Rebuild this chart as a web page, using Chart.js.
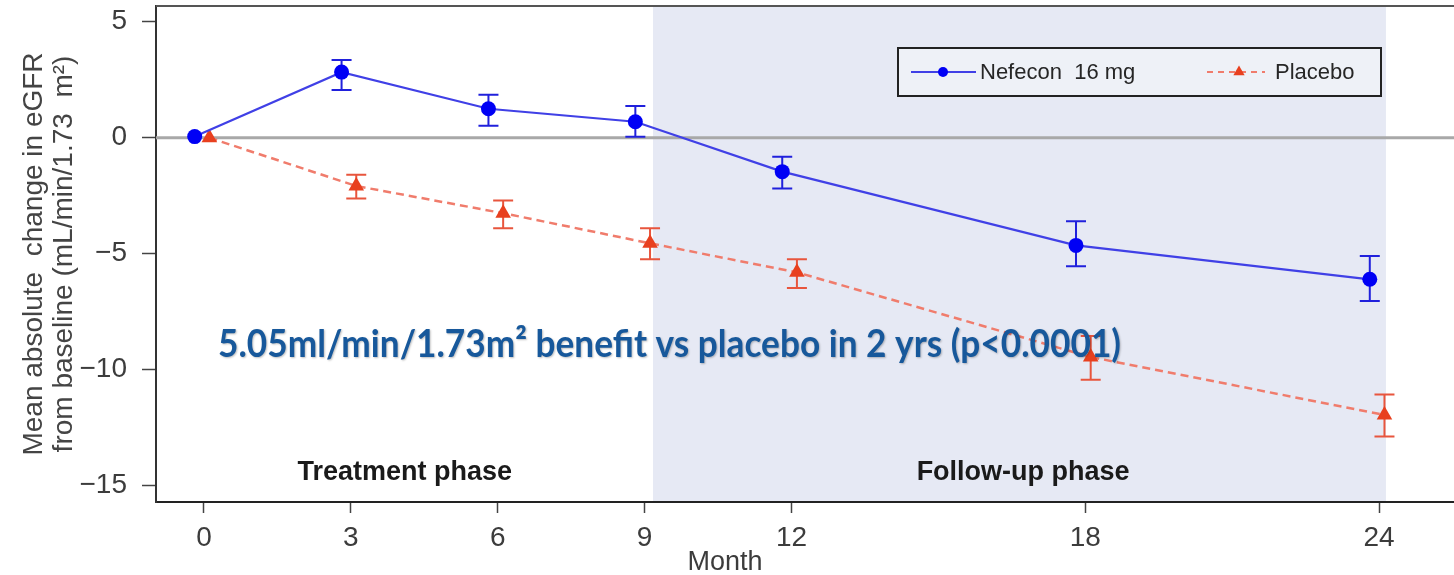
<!DOCTYPE html>
<html>
<head>
<meta charset="utf-8">
<script src="https://cdn.jsdelivr.net/npm/chart.js@4.4.1/dist/chart.umd.min.js"></script>
<style>
  html, body { margin: 0; padding: 0; background: #ffffff; overflow: hidden; }
  canvas { display: block; }
</style>
</head>
<body>
<canvas id="egfr" width="1454" height="575"></canvas>
<script>
// Visit months and axis ticks
const months = [0, 3, 6, 9, 12, 18, 24];
const xTickValues = [0, 3, 6, 9, 12, 18, 24];
const yTickValues = [-15, -10, -5, 0, 5];

// Nefecon 16 mg: mean change and 95% CI bounds
const nefeconLabel = 'Nefecon  16 mg';
const nefeconMean = [0.05, 2.83, 1.25, 0.69, -1.46, -4.64, -6.10];
const nefeconLow  = [0.05, 2.06, 0.52, 0.04, -2.19, -5.54, -7.04];
const nefeconHigh = [0.05, 3.35, 1.85, 1.37, -0.82, -3.60, -5.10];

// Placebo: mean change and 95% CI bounds
const placeboLabel = 'Placebo';
const placeboMean = [0, -2.08, -3.25, -4.55, -5.80, -9.45, -11.95];
const placeboLow  = [0, -2.62, -3.90, -5.24, -6.48, -10.43, -12.88];
const placeboHigh = [0, -1.59, -2.70, -3.90, -5.24, -8.54, -11.07];

// Follow-up phase window (months)
const followUpStart = 9.17;
const followUpEnd = 24.14;

const yTitle = ['Mean absolute  change in eGFR', 'from baseline (mL/min/1.73  m\u00B2)'];
const xTitle = 'Month';
const benefitNote = '5.05ml/min/1.73m\u00B2 benefit vs placebo in 2 yrs (p<0.0001)';
const phaseNames = ['Treatment phase', 'Follow-up phase'];

const AXIS_FONT = "'Liberation Sans', Arial, sans-serif";

// horizontal dodge so the two series do not overlap at each visit
const dodgeNefecon = -0.19;
const dodgePlacebo = 0.11;
const toPoints = (vals, shift) => months.map((m, i) => ({ x: m + shift, y: vals[i] }));

const decorations = {
  id: 'decorations',
  beforeDraw(chart) {
    const { ctx, chartArea: a, scales: { x } } = chart;
    const x0 = x.getPixelForValue(followUpStart);
    const x1 = x.getPixelForValue(followUpEnd);
    ctx.save();
    ctx.fillStyle = '#e6e9f4';
    ctx.fillRect(x0, a.top, x1 - x0, a.bottom - a.top);
    ctx.restore();
  },
  beforeDatasetsDraw(chart) {
    const { ctx, chartArea: a, scales: { y } } = chart;
    ctx.save();
    // top frame
    ctx.strokeStyle = '#555555';
    ctx.lineWidth = 2;
    ctx.beginPath();
    ctx.moveTo(a.left, a.top);
    ctx.lineTo(a.right, a.top);
    ctx.stroke();
    // zero reference line
    const y0 = y.getPixelForValue(0);
    ctx.strokeStyle = '#a8a8a8';
    ctx.lineWidth = 3;
    ctx.beginPath();
    ctx.moveTo(a.left, y0);
    ctx.lineTo(a.right, y0);
    ctx.stroke();
    // error bars
    chart.data.datasets.forEach((ds, i) => {
      const meta = chart.getDatasetMeta(i);
      ctx.strokeStyle = ds.errColor;
      ctx.lineWidth = 2;
      meta.data.forEach((pt, j) => {
        const lo = ds.errLow[j], hi = ds.errHigh[j];
        if (lo === hi) return;
        const yl = y.getPixelForValue(lo), yh = y.getPixelForValue(hi);
        const cap = 10;
        ctx.beginPath();
        ctx.moveTo(pt.x, yl); ctx.lineTo(pt.x, yh);
        ctx.moveTo(pt.x - cap, yl); ctx.lineTo(pt.x + cap, yl);
        ctx.moveTo(pt.x - cap, yh); ctx.lineTo(pt.x + cap, yh);
        ctx.stroke();
      });
    });
    ctx.restore();
  },
  afterDraw(chart) {
    const { ctx, chartArea: a, scales: { x } } = chart;
    ctx.save();

    // x axis title
    ctx.fillStyle = '#3c3c3c';
    ctx.font = `27px ${AXIS_FONT}`;
    ctx.textAlign = 'center';
    ctx.textBaseline = 'alphabetic';
    ctx.fillText(xTitle, 725, 570);

    // phase labels
    ctx.font = `bold 27px ${AXIS_FONT}`;
    ctx.fillStyle = '#1a1a1a';
    ctx.fillText(phaseNames[0], x.getPixelForValue(4.1), a.bottom - 22);
    ctx.fillText(phaseNames[1], x.getPixelForValue(16.73), a.bottom - 22);

    // benefit annotation
    ctx.font = "bold 38px Lato, 'Open Sans', sans-serif";
    ctx.textAlign = 'left';
    const w = ctx.measureText(benefitNote).width;
    const sx = 903 / w;
    ctx.save();
    ctx.translate(218, 357);
    ctx.scale(sx, 1);
    ctx.shadowColor = 'rgba(0,0,0,0.25)';
    ctx.shadowOffsetX = 1;
    ctx.shadowOffsetY = 1;
    ctx.shadowBlur = 2;
    ctx.fillStyle = '#17589b';
    ctx.fillText(benefitNote, 0, 0);
    ctx.restore();

    // legend
    const bx = 898, by = 48, bw = 483, bh = 48;
    ctx.fillStyle = '#eef1f7';
    ctx.fillRect(bx, by, bw, bh);
    ctx.strokeStyle = '#222222';
    ctx.lineWidth = 2;
    ctx.strokeRect(bx, by, bw, bh);
    const ly = by + bh / 2;
    const ds = chart.data.datasets;
    // Nefecon sample
    ctx.strokeStyle = ds[0].borderColor;
    ctx.lineWidth = 2;
    ctx.setLineDash([]);
    ctx.beginPath(); ctx.moveTo(911, ly); ctx.lineTo(976, ly); ctx.stroke();
    ctx.fillStyle = ds[0].pointBackgroundColor;
    ctx.beginPath(); ctx.arc(943, ly, 5, 0, Math.PI * 2); ctx.fill();
    // Placebo sample
    ctx.strokeStyle = ds[1].borderColor;
    ctx.lineWidth = 2;
    ctx.setLineDash([6, 5]);
    ctx.beginPath(); ctx.moveTo(1207, ly); ctx.lineTo(1265, ly); ctx.stroke();
    ctx.setLineDash([]);
    ctx.fillStyle = ds[1].pointBackgroundColor;
    const r = 6.5;
    ctx.beginPath();
    ctx.moveTo(1239, ly - r);
    ctx.lineTo(1239 + r * Math.sin(2 * Math.PI / 3), ly + r / 2);
    ctx.lineTo(1239 - r * Math.sin(2 * Math.PI / 3), ly + r / 2);
    ctx.closePath(); ctx.fill();
    // legend text
    ctx.fillStyle = '#262626';
    ctx.font = `22px ${AXIS_FONT}`;
    ctx.textAlign = 'left';
    ctx.textBaseline = 'middle';
    ctx.fillText(ds[0].label, 980, ly + 1);
    ctx.fillText(ds[1].label, 1275, ly + 1);

    ctx.restore();
  }
};

new Chart(document.getElementById('egfr'), {
  type: 'line',
  data: {
    datasets: [
      {
        label: nefeconLabel,
        data: toPoints(nefeconMean, dodgeNefecon),
        borderColor: '#4040e6',
        borderWidth: 2.2,
        pointStyle: 'circle',
        pointRadius: 7.5,
        pointBackgroundColor: '#0000f5',
        pointBorderColor: '#0000f5',
        pointBorderWidth: 0,
        tension: 0,
        fill: false,
        errLow: nefeconLow,
        errHigh: nefeconHigh,
        errColor: '#2020dc'
      },
      {
        label: placeboLabel,
        data: toPoints(placeboMean, dodgePlacebo),
        borderColor: '#f07c6c',
        borderWidth: 2.5,
        borderDash: [8, 5],
        pointStyle: 'triangle',
        pointRadius: 9,
        pointBackgroundColor: '#e8401f',
        pointBorderColor: '#e8401f',
        pointBorderWidth: 0,
        tension: 0,
        fill: false,
        errLow: placeboLow,
        errHigh: placeboHigh,
        errColor: '#e8553d'
      }
    ]
  },
  options: {
    responsive: false,
    animation: false,
    devicePixelRatio: 1,
    layout: { autoPadding: false, padding: { top: 6, right: 0, bottom: 0, left: 0 } },
    plugins: { legend: { display: false }, tooltip: { enabled: false } },
    scales: {
      x: {
        type: 'linear',
        min: -0.98,
        max: 25.53,
        afterBuildTicks: s => { s.ticks = xTickValues.map(v => ({ value: v })); },
        afterFit: s => { s.height = 73; s.paddingLeft = 0; s.paddingRight = 0; },
        grid: { drawOnChartArea: false, drawTicks: true, tickLength: 11, tickWidth: 1.5, tickColor: '#444444' },
        border: { display: true, color: '#222222', width: 2 },
        ticks: { font: { family: AXIS_FONT, size: 28 }, color: '#3c3c3c', padding: 8, maxRotation: 0, autoSkip: false }
      },
      y: {
        min: -15.7,
        max: 5.68,
        afterBuildTicks: s => { s.ticks = yTickValues.map(v => ({ value: v })); },
        afterFit: s => { s.width = 156; s.paddingTop = 0; s.paddingBottom = 0; },
        grid: { drawOnChartArea: false, drawTicks: true, tickLength: 14, tickWidth: 1.5, tickColor: '#444444' },
        border: { display: true, color: '#333333', width: 2 },
        ticks: {
          font: { family: AXIS_FONT, size: 28 },
          color: '#3c3c3c',
          padding: 15,
          callback: v => String(v).replace('-', '\u2212')
        },
        title: {
          display: true,
          text: yTitle,
          color: '#444444',
          font: { family: AXIS_FONT, size: 28, lineHeight: 30 / 28 },
          padding: { top: 19, bottom: 0 }
        }
      }
    }
  },
  plugins: [decorations]
});
</script>
</body>
</html>
